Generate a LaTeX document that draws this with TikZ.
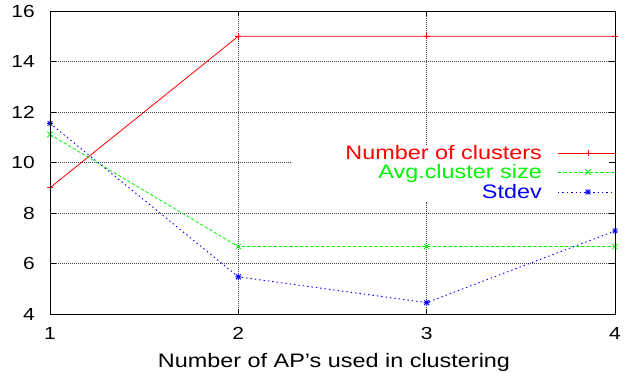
\documentclass[tikz,border=0pt]{standalone}
\usepackage{fontspec}
\setmainfont[FakeStretch=1.2]{Liberation Sans}
\definecolor{lred}{RGB}{255,0,0}
\definecolor{lgreen}{RGB}{0,245,0}
\definecolor{lblue}{RGB}{0,0,255}
\tikzset{
  frame/.style={line width=0.9pt, black},
  gridline/.style={line width=0.6pt, black!75, dash pattern=on 0.8pt off 1.2pt},
  tickmark/.style={line width=0.8pt, black},
  ticklab/.style={inner sep=0pt, font=\fontsize{17.5}{18}\selectfont},
  keylab/.style={inner sep=0pt, anchor=base east, font=\fontsize{19.5}{20}\selectfont},
  clusters/.style={lred, line width=0.8pt},
  avgsize/.style={lgreen, line width=0.8pt, dash pattern=on 3.3pt off 2pt},
  spread/.style={lblue, line width=0.9pt, dash pattern=on 1.4pt off 3pt},
  plusmark/.pic={\draw[line width=0.8pt] (-3pt,0)--(3pt,0) (0,-3pt)--(0,3pt);},
  crossmark/.pic={\draw[line width=0.8pt] (-2.6pt,-2.6pt)--(2.6pt,2.6pt) (-2.6pt,2.6pt)--(2.6pt,-2.6pt);},
  starmark/.pic={\draw[line width=0.8pt] (-3pt,0)--(3pt,0) (0,-3pt)--(0,3pt)
                   (-2.4pt,-2.4pt)--(2.4pt,2.4pt) (-2.4pt,2.4pt)--(2.4pt,-2.4pt);},
}
\begin{document}
\begin{tikzpicture}
\useasboundingbox (0,0) rectangle (628pt,377pt);

% data frame: x in 1..4, y in 4..16
\begin{scope}[x=188.33pt, y=25.25pt, shift={(-138.33pt,-38pt)}]
  \coordinate (ll) at (1,4);
  \coordinate (ur) at (4,16);

  % grid (left open where the key sits)
  \foreach \yv in {6,8,12,14}
    \draw[gridline] (1,\yv) -- (4,\yv);
  \draw[gridline] (1,10) -- (2.285,10);
  \draw[gridline] (2,4) -- (2,16);
  \draw[gridline] (3,4) -- (3,8.44);
  \draw[gridline] (3,10.69) -- (3,16);

  % ticks
  \foreach \yv in {6,8,...,14} {
    \draw[tickmark] (1,\yv) -- ++(6pt,0);
    \draw[tickmark] (4,\yv) -- ++(-6pt,0);
  }
  \foreach \xv in {2,3} {
    \draw[tickmark] (\xv,4) -- ++(0,5pt);
    \draw[tickmark] (\xv,16) -- ++(0,-5pt);
  }

  % tick labels
  \foreach \yv in {4,6,...,16}
    \node[ticklab, anchor=east] (yl\yv) at ([xshift=-15pt]1,\yv) {\yv};
  \foreach \xv in {1,2,3,4}
    \node[ticklab] (xl\xv) at ([yshift=-19pt]\xv,4) {\xv};

  % series
  \draw[clusters] plot coordinates {(1,9) (2,15) (3,15) (4,15)};
  \foreach \p in {(1,9),(2,15),(3,15),(4,15)}
    \path \p pic[lred] {plusmark};

  \draw[avgsize] plot coordinates {(1,11.11) (2,6.67) (3,6.67) (4,6.67)};
  \foreach \p in {(1,11.11),(2,6.67),(3,6.67),(4,6.67)}
    \path \p pic[lgreen] {crossmark};

  \draw[spread] plot coordinates {(1,11.55) (2,5.47) (3,4.45) (4,7.29)};
  \foreach \p in {(1,11.55),(2,5.47),(3,4.45),(4,7.29)}
    \path \p pic[lblue] {starmark};

  % border
  \draw[frame] (ll) rectangle (ur);
\end{scope}

% axis title
\node[ticklab, anchor=base, font=\fontsize{19.5}{20}\selectfont] (xtitle) at (334pt,10pt)
  {Number of AP’s used in clustering};

% key
\node[keylab, text=lred]   (k1) at (542pt,217pt) {Number of clusters};
\node[keylab, text=lgreen] (k2) at (542pt,198pt) {Avg.cluster size};
\node[keylab, text=lblue]  (k3) at (542pt,178pt) {Stdev};
\coordinate (k1a) at (558pt,224pt); \coordinate (k1b) at (616pt,224pt);
\coordinate (k2a) at (558pt,205pt); \coordinate (k2b) at (616pt,205pt);
\coordinate (k3a) at (558pt,185pt); \coordinate (k3b) at (616pt,185pt);
\draw[clusters] (k1a) -- (k1b);
\draw[avgsize]  (k2a) -- (k2b);
\draw[spread]   (k3a) -- (k3b);
\path (588pt,224pt) pic[lred] {plusmark};
\path (588pt,205pt) pic[lgreen] {crossmark};
\path (588pt,185pt) pic[lblue] {starmark};
\end{tikzpicture}
\end{document}
